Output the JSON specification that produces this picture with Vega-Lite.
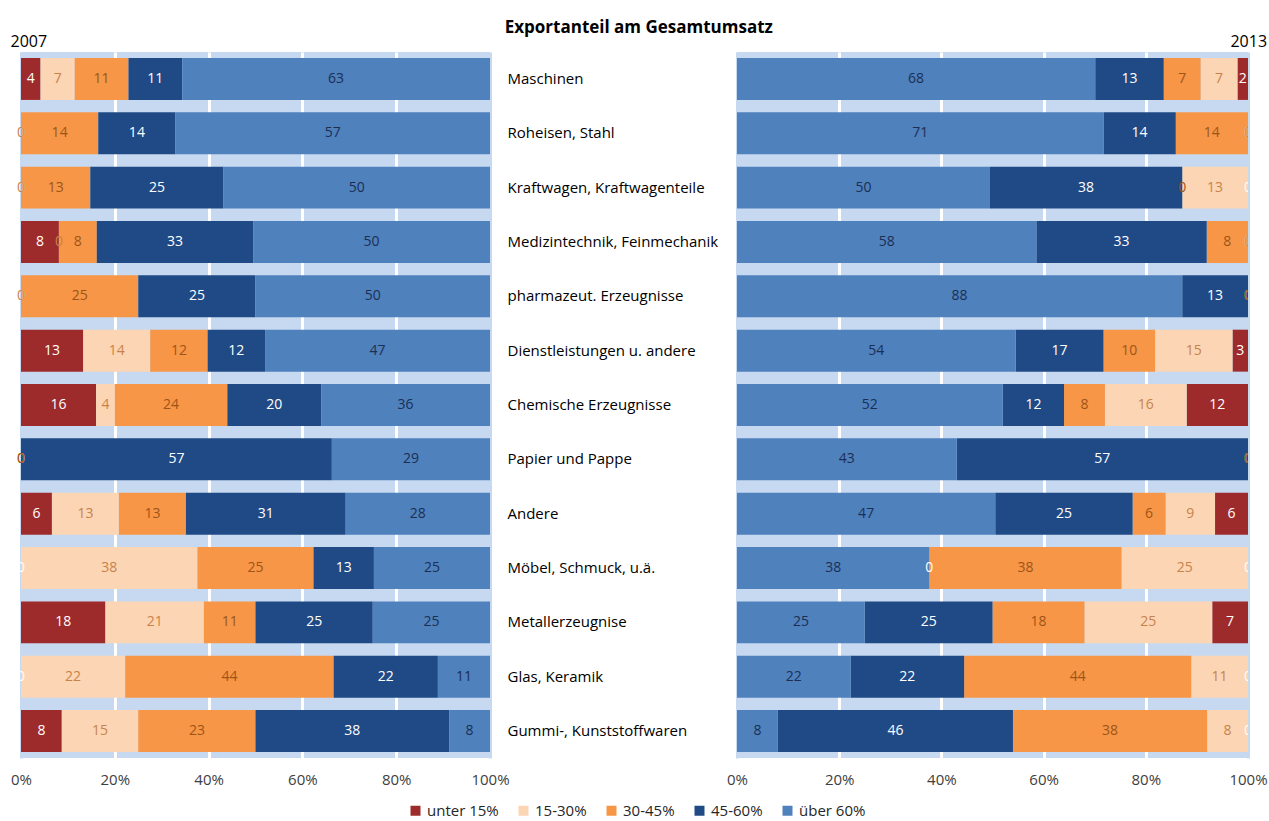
{
  "$schema": "https://vega.github.io/schema/vega-lite/v6.json",
  "background": "white",
  "padding": {"left": 10, "top": 19, "right": 5, "bottom": 5},
  "title": {"text": "Exportanteil am Gesamtumsatz", "anchor": "middle", "fontSize": 17, "fontWeight": "bold", "font": "Open Sans", "color": "#000000", "offset": -3},
  "config": {
    "font": "Open Sans",
    "view": {"fill": "#c6d9f1", "stroke": null},
    "concat": {"spacing": 0}
  },
  "spacing": 0,
  "datasets": {
    "d2007": [
      {"branche": "Maschinen", "klasse": "unter 15%", "rang": 1, "anteil": 4},
      {"branche": "Maschinen", "klasse": "15-30%", "rang": 2, "anteil": 7},
      {"branche": "Maschinen", "klasse": "30-45%", "rang": 3, "anteil": 11},
      {"branche": "Maschinen", "klasse": "45-60%", "rang": 4, "anteil": 11},
      {"branche": "Maschinen", "klasse": "über 60%", "rang": 5, "anteil": 63},
      {"branche": "Roheisen, Stahl", "klasse": "unter 15%", "rang": 1, "anteil": 0},
      {"branche": "Roheisen, Stahl", "klasse": "15-30%", "rang": 2, "anteil": 0},
      {"branche": "Roheisen, Stahl", "klasse": "30-45%", "rang": 3, "anteil": 14},
      {"branche": "Roheisen, Stahl", "klasse": "45-60%", "rang": 4, "anteil": 14},
      {"branche": "Roheisen, Stahl", "klasse": "über 60%", "rang": 5, "anteil": 57},
      {"branche": "Kraftwagen, Kraftwagenteile", "klasse": "unter 15%", "rang": 1, "anteil": 0},
      {"branche": "Kraftwagen, Kraftwagenteile", "klasse": "15-30%", "rang": 2, "anteil": 0},
      {"branche": "Kraftwagen, Kraftwagenteile", "klasse": "30-45%", "rang": 3, "anteil": 13},
      {"branche": "Kraftwagen, Kraftwagenteile", "klasse": "45-60%", "rang": 4, "anteil": 25},
      {"branche": "Kraftwagen, Kraftwagenteile", "klasse": "über 60%", "rang": 5, "anteil": 50},
      {"branche": "Medizintechnik, Feinmechanik", "klasse": "unter 15%", "rang": 1, "anteil": 8},
      {"branche": "Medizintechnik, Feinmechanik", "klasse": "15-30%", "rang": 2, "anteil": 0},
      {"branche": "Medizintechnik, Feinmechanik", "klasse": "30-45%", "rang": 3, "anteil": 8},
      {"branche": "Medizintechnik, Feinmechanik", "klasse": "45-60%", "rang": 4, "anteil": 33},
      {"branche": "Medizintechnik, Feinmechanik", "klasse": "über 60%", "rang": 5, "anteil": 50},
      {"branche": "pharmazeut. Erzeugnisse", "klasse": "unter 15%", "rang": 1, "anteil": 0},
      {"branche": "pharmazeut. Erzeugnisse", "klasse": "15-30%", "rang": 2, "anteil": 0},
      {"branche": "pharmazeut. Erzeugnisse", "klasse": "30-45%", "rang": 3, "anteil": 25},
      {"branche": "pharmazeut. Erzeugnisse", "klasse": "45-60%", "rang": 4, "anteil": 25},
      {"branche": "pharmazeut. Erzeugnisse", "klasse": "über 60%", "rang": 5, "anteil": 50},
      {"branche": "Dienstleistungen u. andere", "klasse": "unter 15%", "rang": 1, "anteil": 13},
      {"branche": "Dienstleistungen u. andere", "klasse": "15-30%", "rang": 2, "anteil": 14},
      {"branche": "Dienstleistungen u. andere", "klasse": "30-45%", "rang": 3, "anteil": 12},
      {"branche": "Dienstleistungen u. andere", "klasse": "45-60%", "rang": 4, "anteil": 12},
      {"branche": "Dienstleistungen u. andere", "klasse": "über 60%", "rang": 5, "anteil": 47},
      {"branche": "Chemische Erzeugnisse", "klasse": "unter 15%", "rang": 1, "anteil": 16},
      {"branche": "Chemische Erzeugnisse", "klasse": "15-30%", "rang": 2, "anteil": 4},
      {"branche": "Chemische Erzeugnisse", "klasse": "30-45%", "rang": 3, "anteil": 24},
      {"branche": "Chemische Erzeugnisse", "klasse": "45-60%", "rang": 4, "anteil": 20},
      {"branche": "Chemische Erzeugnisse", "klasse": "über 60%", "rang": 5, "anteil": 36},
      {"branche": "Papier und Pappe", "klasse": "unter 15%", "rang": 1, "anteil": 0},
      {"branche": "Papier und Pappe", "klasse": "15-30%", "rang": 2, "anteil": 0},
      {"branche": "Papier und Pappe", "klasse": "30-45%", "rang": 3, "anteil": 0},
      {"branche": "Papier und Pappe", "klasse": "45-60%", "rang": 4, "anteil": 57},
      {"branche": "Papier und Pappe", "klasse": "über 60%", "rang": 5, "anteil": 29},
      {"branche": "Andere", "klasse": "unter 15%", "rang": 1, "anteil": 6},
      {"branche": "Andere", "klasse": "15-30%", "rang": 2, "anteil": 13},
      {"branche": "Andere", "klasse": "30-45%", "rang": 3, "anteil": 13},
      {"branche": "Andere", "klasse": "45-60%", "rang": 4, "anteil": 31},
      {"branche": "Andere", "klasse": "über 60%", "rang": 5, "anteil": 28},
      {"branche": "Möbel, Schmuck, u.ä.", "klasse": "unter 15%", "rang": 1, "anteil": 0},
      {"branche": "Möbel, Schmuck, u.ä.", "klasse": "15-30%", "rang": 2, "anteil": 38},
      {"branche": "Möbel, Schmuck, u.ä.", "klasse": "30-45%", "rang": 3, "anteil": 25},
      {"branche": "Möbel, Schmuck, u.ä.", "klasse": "45-60%", "rang": 4, "anteil": 13},
      {"branche": "Möbel, Schmuck, u.ä.", "klasse": "über 60%", "rang": 5, "anteil": 25},
      {"branche": "Metallerzeugnise", "klasse": "unter 15%", "rang": 1, "anteil": 18},
      {"branche": "Metallerzeugnise", "klasse": "15-30%", "rang": 2, "anteil": 21},
      {"branche": "Metallerzeugnise", "klasse": "30-45%", "rang": 3, "anteil": 11},
      {"branche": "Metallerzeugnise", "klasse": "45-60%", "rang": 4, "anteil": 25},
      {"branche": "Metallerzeugnise", "klasse": "über 60%", "rang": 5, "anteil": 25},
      {"branche": "Glas, Keramik", "klasse": "unter 15%", "rang": 1, "anteil": 0},
      {"branche": "Glas, Keramik", "klasse": "15-30%", "rang": 2, "anteil": 22},
      {"branche": "Glas, Keramik", "klasse": "30-45%", "rang": 3, "anteil": 44},
      {"branche": "Glas, Keramik", "klasse": "45-60%", "rang": 4, "anteil": 22},
      {"branche": "Glas, Keramik", "klasse": "über 60%", "rang": 5, "anteil": 11},
      {"branche": "Gummi-, Kunststoffwaren", "klasse": "unter 15%", "rang": 1, "anteil": 8},
      {"branche": "Gummi-, Kunststoffwaren", "klasse": "15-30%", "rang": 2, "anteil": 15},
      {"branche": "Gummi-, Kunststoffwaren", "klasse": "30-45%", "rang": 3, "anteil": 23},
      {"branche": "Gummi-, Kunststoffwaren", "klasse": "45-60%", "rang": 4, "anteil": 38},
      {"branche": "Gummi-, Kunststoffwaren", "klasse": "über 60%", "rang": 5, "anteil": 8}
    ],
    "d2013": [
      {"branche": "Maschinen", "klasse": "unter 15%", "rang": 1, "anteil": 2},
      {"branche": "Maschinen", "klasse": "15-30%", "rang": 2, "anteil": 7},
      {"branche": "Maschinen", "klasse": "30-45%", "rang": 3, "anteil": 7},
      {"branche": "Maschinen", "klasse": "45-60%", "rang": 4, "anteil": 13},
      {"branche": "Maschinen", "klasse": "über 60%", "rang": 5, "anteil": 68},
      {"branche": "Roheisen, Stahl", "klasse": "unter 15%", "rang": 1, "anteil": 0},
      {"branche": "Roheisen, Stahl", "klasse": "15-30%", "rang": 2, "anteil": 0},
      {"branche": "Roheisen, Stahl", "klasse": "30-45%", "rang": 3, "anteil": 14},
      {"branche": "Roheisen, Stahl", "klasse": "45-60%", "rang": 4, "anteil": 14},
      {"branche": "Roheisen, Stahl", "klasse": "über 60%", "rang": 5, "anteil": 71},
      {"branche": "Kraftwagen, Kraftwagenteile", "klasse": "unter 15%", "rang": 1, "anteil": 0},
      {"branche": "Kraftwagen, Kraftwagenteile", "klasse": "15-30%", "rang": 2, "anteil": 13},
      {"branche": "Kraftwagen, Kraftwagenteile", "klasse": "30-45%", "rang": 3, "anteil": 0},
      {"branche": "Kraftwagen, Kraftwagenteile", "klasse": "45-60%", "rang": 4, "anteil": 38},
      {"branche": "Kraftwagen, Kraftwagenteile", "klasse": "über 60%", "rang": 5, "anteil": 50},
      {"branche": "Medizintechnik, Feinmechanik", "klasse": "unter 15%", "rang": 1, "anteil": 0},
      {"branche": "Medizintechnik, Feinmechanik", "klasse": "15-30%", "rang": 2, "anteil": 0},
      {"branche": "Medizintechnik, Feinmechanik", "klasse": "30-45%", "rang": 3, "anteil": 8},
      {"branche": "Medizintechnik, Feinmechanik", "klasse": "45-60%", "rang": 4, "anteil": 33},
      {"branche": "Medizintechnik, Feinmechanik", "klasse": "über 60%", "rang": 5, "anteil": 58},
      {"branche": "pharmazeut. Erzeugnisse", "klasse": "unter 15%", "rang": 1, "anteil": 0},
      {"branche": "pharmazeut. Erzeugnisse", "klasse": "15-30%", "rang": 2, "anteil": 0},
      {"branche": "pharmazeut. Erzeugnisse", "klasse": "30-45%", "rang": 3, "anteil": 0},
      {"branche": "pharmazeut. Erzeugnisse", "klasse": "45-60%", "rang": 4, "anteil": 13},
      {"branche": "pharmazeut. Erzeugnisse", "klasse": "über 60%", "rang": 5, "anteil": 88},
      {"branche": "Dienstleistungen u. andere", "klasse": "unter 15%", "rang": 1, "anteil": 3},
      {"branche": "Dienstleistungen u. andere", "klasse": "15-30%", "rang": 2, "anteil": 15},
      {"branche": "Dienstleistungen u. andere", "klasse": "30-45%", "rang": 3, "anteil": 10},
      {"branche": "Dienstleistungen u. andere", "klasse": "45-60%", "rang": 4, "anteil": 17},
      {"branche": "Dienstleistungen u. andere", "klasse": "über 60%", "rang": 5, "anteil": 54},
      {"branche": "Chemische Erzeugnisse", "klasse": "unter 15%", "rang": 1, "anteil": 12},
      {"branche": "Chemische Erzeugnisse", "klasse": "15-30%", "rang": 2, "anteil": 16},
      {"branche": "Chemische Erzeugnisse", "klasse": "30-45%", "rang": 3, "anteil": 8},
      {"branche": "Chemische Erzeugnisse", "klasse": "45-60%", "rang": 4, "anteil": 12},
      {"branche": "Chemische Erzeugnisse", "klasse": "über 60%", "rang": 5, "anteil": 52},
      {"branche": "Papier und Pappe", "klasse": "unter 15%", "rang": 1, "anteil": 0},
      {"branche": "Papier und Pappe", "klasse": "15-30%", "rang": 2, "anteil": 0},
      {"branche": "Papier und Pappe", "klasse": "30-45%", "rang": 3, "anteil": 0},
      {"branche": "Papier und Pappe", "klasse": "45-60%", "rang": 4, "anteil": 57},
      {"branche": "Papier und Pappe", "klasse": "über 60%", "rang": 5, "anteil": 43},
      {"branche": "Andere", "klasse": "unter 15%", "rang": 1, "anteil": 6},
      {"branche": "Andere", "klasse": "15-30%", "rang": 2, "anteil": 9},
      {"branche": "Andere", "klasse": "30-45%", "rang": 3, "anteil": 6},
      {"branche": "Andere", "klasse": "45-60%", "rang": 4, "anteil": 25},
      {"branche": "Andere", "klasse": "über 60%", "rang": 5, "anteil": 47},
      {"branche": "Möbel, Schmuck, u.ä.", "klasse": "unter 15%", "rang": 1, "anteil": 0},
      {"branche": "Möbel, Schmuck, u.ä.", "klasse": "15-30%", "rang": 2, "anteil": 25},
      {"branche": "Möbel, Schmuck, u.ä.", "klasse": "30-45%", "rang": 3, "anteil": 38},
      {"branche": "Möbel, Schmuck, u.ä.", "klasse": "45-60%", "rang": 4, "anteil": 0},
      {"branche": "Möbel, Schmuck, u.ä.", "klasse": "über 60%", "rang": 5, "anteil": 38},
      {"branche": "Metallerzeugnise", "klasse": "unter 15%", "rang": 1, "anteil": 7},
      {"branche": "Metallerzeugnise", "klasse": "15-30%", "rang": 2, "anteil": 25},
      {"branche": "Metallerzeugnise", "klasse": "30-45%", "rang": 3, "anteil": 18},
      {"branche": "Metallerzeugnise", "klasse": "45-60%", "rang": 4, "anteil": 25},
      {"branche": "Metallerzeugnise", "klasse": "über 60%", "rang": 5, "anteil": 25},
      {"branche": "Glas, Keramik", "klasse": "unter 15%", "rang": 1, "anteil": 0},
      {"branche": "Glas, Keramik", "klasse": "15-30%", "rang": 2, "anteil": 11},
      {"branche": "Glas, Keramik", "klasse": "30-45%", "rang": 3, "anteil": 44},
      {"branche": "Glas, Keramik", "klasse": "45-60%", "rang": 4, "anteil": 22},
      {"branche": "Glas, Keramik", "klasse": "über 60%", "rang": 5, "anteil": 22},
      {"branche": "Gummi-, Kunststoffwaren", "klasse": "unter 15%", "rang": 1, "anteil": 0},
      {"branche": "Gummi-, Kunststoffwaren", "klasse": "15-30%", "rang": 2, "anteil": 8},
      {"branche": "Gummi-, Kunststoffwaren", "klasse": "30-45%", "rang": 3, "anteil": 38},
      {"branche": "Gummi-, Kunststoffwaren", "klasse": "45-60%", "rang": 4, "anteil": 46},
      {"branche": "Gummi-, Kunststoffwaren", "klasse": "über 60%", "rang": 5, "anteil": 8}
    ]
  },
  "hconcat": [
    {
      "width": 469,
      "height": 706,
      "title": {"text": "2007", "anchor": "start", "fontSize": 16, "fontWeight": "normal", "font": "Open Sans", "color": "#000000", "offset": 2},
      "data": {"name": "d2007"},
      "encoding": {
        "y": {
          "field": "branche", "type": "nominal",
          "sort": ["Maschinen", "Roheisen, Stahl", "Kraftwagen, Kraftwagenteile", "Medizintechnik, Feinmechanik", "pharmazeut. Erzeugnisse", "Dienstleistungen u. andere", "Chemische Erzeugnisse", "Papier und Pappe", "Andere", "Möbel, Schmuck, u.ä.", "Metallerzeugnise", "Glas, Keramik", "Gummi-, Kunststoffwaren"],
          "scale": {"paddingInner": 0.228, "paddingOuter": 0.11},
          "axis": {"orient": "right", "title": null, "ticks": false, "domain": false, "labelPadding": 17, "labelAlign": "left", "labelFontSize": 15, "labelFont": "Open Sans", "labelColor": "#000000", "labelLimit": 300, "minExtent": 236, "maxExtent": 236}
        }
      },
      "layer": [
        {
          "mark": {"type": "bar"},
          "encoding": {
            "x": {
              "field": "anteil", "type": "quantitative", "stack": "normalize",
              "scale": {"domain": [0, 1], "nice": false},
              "axis": {"title": null, "format": ".0%", "values": [0, 0.2, 0.4, 0.6, 0.8, 1], "grid": true, "gridColor": {"condition": {"test": "datum.value > 0 && datum.value < 1", "value": "#ffffff"}, "value": "#c6d9f1"}, "gridWidth": 3, "ticks": false, "domain": false, "labelFlush": false, "labelPadding": 14, "labelFontSize": 15, "labelFont": "Open Sans", "labelColor": "#404040"}
            },
            "color": {
              "field": "klasse", "type": "nominal",
              "scale": {"domain": ["unter 15%", "15-30%", "30-45%", "45-60%", "über 60%"], "range": ["#9e2b2b", "#fcd5b4", "#f79646", "#1f4a85", "#4f81bd"]},
              "legend": {"orient": "none", "legendX": 387, "legendY": 751, "direction": "horizontal", "title": null, "symbolType": "square", "symbolSize": 100, "symbolStrokeWidth": 0, "labelFontSize": 15, "labelFont": "Open Sans", "labelColor": "#262626", "columnPadding": 17, "labelOffset": 4}
            },
            "order": {"field": "rang", "type": "quantitative"}
          }
        },
        {
          "mark": {"type": "text", "fontSize": 14, "font": "Open Sans"},
          "encoding": {
            "x": {"field": "anteil", "type": "quantitative", "stack": "normalize", "bandPosition": 0.5},
            "detail": {"field": "klasse", "type": "nominal"},
            "order": {"field": "rang", "type": "quantitative"},
            "text": {"field": "anteil", "type": "quantitative"},
            "color": {
              "condition": [
                {"test": "datum.klasse === 'unter 15%' || datum.klasse === '45-60%'", "value": "#ffffff"},
                {"test": "datum.klasse === '15-30%'", "value": "#c8834a"},
                {"test": "datum.klasse === '30-45%'", "value": "#9c5518"}
              ],
              "value": "#1b2f55"
            }
          }
        }
      ]
    },
    {
      "width": 511,
      "height": 706,
      "title": {"text": "2013", "anchor": "end", "fontSize": 16, "fontWeight": "normal", "font": "Open Sans", "color": "#000000", "offset": 2},
      "data": {"name": "d2013"},
      "encoding": {
        "y": {
          "field": "branche", "type": "nominal",
          "sort": ["Maschinen", "Roheisen, Stahl", "Kraftwagen, Kraftwagenteile", "Medizintechnik, Feinmechanik", "pharmazeut. Erzeugnisse", "Dienstleistungen u. andere", "Chemische Erzeugnisse", "Papier und Pappe", "Andere", "Möbel, Schmuck, u.ä.", "Metallerzeugnise", "Glas, Keramik", "Gummi-, Kunststoffwaren"],
          "scale": {"paddingInner": 0.228, "paddingOuter": 0.11},
          "axis": null
        }
      },
      "layer": [
        {
          "mark": {"type": "bar"},
          "encoding": {
            "x": {
              "field": "anteil", "type": "quantitative", "stack": "normalize",
              "scale": {"domain": [0, 1], "nice": false},
              "axis": {"title": null, "format": ".0%", "values": [0, 0.2, 0.4, 0.6, 0.8, 1], "grid": true, "gridColor": {"condition": {"test": "datum.value > 0 && datum.value < 1", "value": "#ffffff"}, "value": "#c6d9f1"}, "gridWidth": 3, "ticks": false, "domain": false, "labelFlush": false, "labelPadding": 14, "labelFontSize": 15, "labelFont": "Open Sans", "labelColor": "#404040"}
            },
            "color": {
              "field": "klasse", "type": "nominal",
              "scale": {"domain": ["unter 15%", "15-30%", "30-45%", "45-60%", "über 60%"], "range": ["#9e2b2b", "#fcd5b4", "#f79646", "#1f4a85", "#4f81bd"]}
            },
            "order": {"field": "rang", "type": "quantitative", "sort": "descending"}
          }
        },
        {
          "mark": {"type": "text", "fontSize": 14, "font": "Open Sans", "clip": true},
          "encoding": {
            "x": {"field": "anteil", "type": "quantitative", "stack": "normalize", "bandPosition": 0.5},
            "detail": {"field": "klasse", "type": "nominal"},
            "order": {"field": "rang", "type": "quantitative", "sort": "descending"},
            "text": {"field": "anteil", "type": "quantitative"},
            "color": {
              "condition": [
                {"test": "datum.klasse === 'unter 15%' || datum.klasse === '45-60%'", "value": "#ffffff"},
                {"test": "datum.klasse === '15-30%'", "value": "#c8834a"},
                {"test": "datum.klasse === '30-45%'", "value": "#9c5518"}
              ],
              "value": "#1b2f55"
            }
          }
        }
      ]
    }
  ]
}
